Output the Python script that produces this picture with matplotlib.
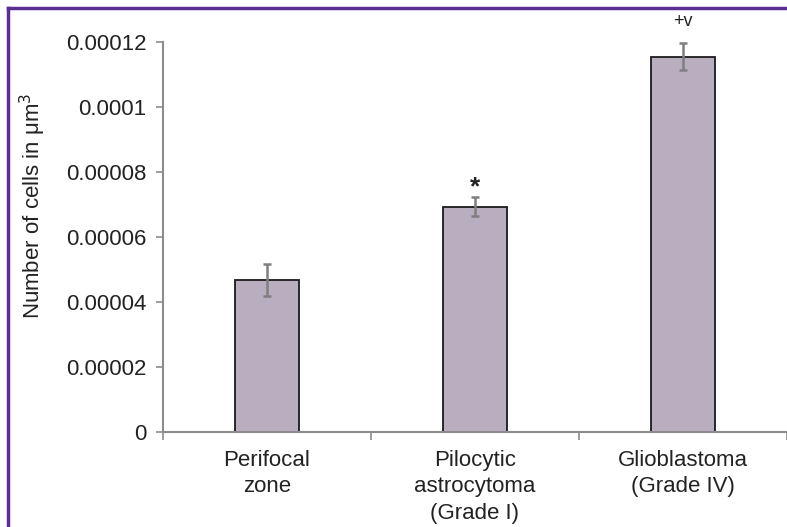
import matplotlib
matplotlib.use("Agg")
import matplotlib.pyplot as plt
from matplotlib.lines import Line2D
import numpy as np

categories = ["Perifocal\nzone", "Pilocytic\nastrocytoma\n(Grade I)", "Glioblastoma\n(Grade IV)"]
values = [4.67e-5, 6.93e-5, 1.155e-4]
errors = [4.9e-6, 2.9e-6, 4.1e-6]
marks = ["", "*", "+v"]
yticks = [0, 0.00002, 0.00004, 0.00006, 0.00008, 0.0001, 0.00012]
ytick_labels = ["0", "0.00002", "0.00004", "0.00006", "0.00008", "0.0001", "0.00012"]

plt.rcParams['font.family'] = ['Liberation Sans', 'DejaVu Sans']

W, H = 787, 527
fig = plt.figure(figsize=(W/100, H/100), dpi=100)
ax = fig.add_axes([163/W, (H-432)/H, (W-163)/W, (432-42)/H])

x = np.arange(len(categories))
ax.bar(x, values, width=0.31, color="#b9adc0", edgecolor="#1a1a1a", linewidth=1.3, zorder=2)
ax.errorbar(x, values, yerr=errors, fmt="none", ecolor="#7f7f7f", elinewidth=1.8,
            capsize=3, capthick=1.8, zorder=3)

for xi, v, e, m in zip(x, values, errors, marks):
    if m == "*":
        ax.text(xi, v + e - 0.0000005, m, ha="center", va="bottom", fontsize=19,
                fontweight="bold", color="#222222")
    elif m:
        ax.text(xi, v + e + 0.0000040, m, ha="center", va="bottom", fontsize=13, color="#222222")

ax.set_xlim(-0.5, len(categories) - 0.5)
ax.set_ylim(0, 0.00012)
ax.set_yticks(yticks)
ax.set_yticklabels(ytick_labels, fontsize=16, color="#222222")
ax.set_xticks(np.arange(len(categories) + 1) - 0.5)
ax.set_xticklabels([])
ax.set_xticks(x, minor=True)
ax.set_xticklabels(categories, minor=True, fontsize=16, color="#222222", linespacing=1.33)
ax.tick_params(axis="x", which="minor", length=0, pad=13)
ax.tick_params(axis="x", which="major", length=6, width=1.2, color="#8c8c8c", direction="out")
ax.tick_params(axis="y", length=5, width=1.2, color="#8c8c8c", direction="out", pad=7)

for s in ["top", "right"]:
    ax.spines[s].set_visible(False)
for s in ["left", "bottom"]:
    ax.spines[s].set_color("#8c8c8c")
    ax.spines[s].set_linewidth(1.5)

ax.set_ylabel("Number of cells in μm$^3$", fontsize=16, color="#222222")
ax.yaxis.set_label_coords(-0.184, 0.58)

purple = "#5a2f91"
fig.add_artist(Line2D([8/W, 8/W], [0, 1 - 8/H], transform=fig.transFigure, color=purple, lw=2.5))
fig.add_artist(Line2D([8/W, 1], [1 - 8/H, 1 - 8/H], transform=fig.transFigure, color=purple, lw=2.5))

fig.savefig("out.png", dpi=100)
